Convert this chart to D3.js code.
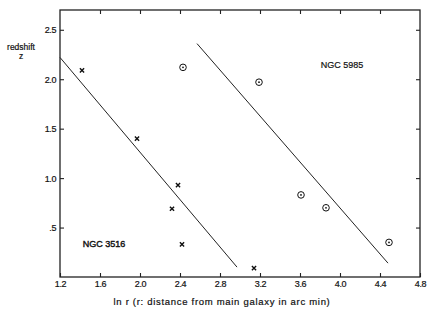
<!DOCTYPE html>
<html>
<head>
<meta charset="utf-8">
<script src="https://cdn.jsdelivr.net/npm/d3@7"></script>
<style>
  body { margin: 0; background: #fff; }
  text { font-family: "Liberation Sans", Arial, sans-serif; fill: #111; stroke: #111; stroke-width: 0.2px; }
</style>
</head>
<body>
<div class="chart"></div>
<script>
// data (x = ln r, y = redshift z)
const ngc3516X = [1.42, 1.97, 2.38, 2.32, 2.42, 3.14];
const ngc3516Z = [2.09, 1.40, 0.93, 0.69, 0.33, 0.09];
const ngc5985X = [2.43, 3.19, 3.61, 3.86, 4.49];
const ngc5985Z = [2.12, 1.97, 0.83, 0.70, 0.35];
// fitted lines, [x, z] end points
const line3516 = [[1.2, 2.22], [2.97, 0.10]];
const line5985 = [[2.57, 2.36], [4.48, 0.14]];
const xTicks = [1.2, 1.6, 2.0, 2.4, 2.8, 3.2, 3.6, 4.0, 4.4, 4.8];
const yTicks = [0.5, 1.0, 1.5, 2.0, 2.5];
const yTickLabels = ['.5', '1.0', '1.5', '2.0', '2.5'];

const width = 435, height = 316;
const plotLeft = 60, plotRight = 420, plotTop = 10, plotBottom = 277;

const svg = d3.select('.chart')
              .append('svg')
              .attr('width', width)
              .attr('height', height);

const x = d3.scaleLinear().domain([1.2, 4.8]).range([plotLeft, plotRight]);
const y = d3.scaleLinear().domain([0, 2.7]).range([plotBottom, plotTop]);

// frame
svg.append('rect')
   .attr('x', plotLeft).attr('y', plotTop)
   .attr('width', plotRight - plotLeft).attr('height', plotBottom - plotTop)
   .attr('fill', 'none')
   .attr('stroke', '#222')
   .attr('stroke-width', 1.3);

// axes, ticks pointing inward
const xAxis = d3.axisBottom(x).tickValues(xTicks).tickFormat(d3.format('.1f'))
                .tickSizeInner(-4).tickSizeOuter(0).tickPadding(4);
const gx = svg.append('g').attr('transform', `translate(0,${plotBottom})`).call(xAxis);

const yAxis = d3.axisLeft(y).tickValues(yTicks)
                .tickFormat((d, i) => yTickLabels[i])
                .tickSizeInner(-4).tickSizeOuter(0).tickPadding(4);
const gy = svg.append('g').attr('transform', `translate(${plotLeft},0)`).call(yAxis);

const gTop = svg.append('g').attr('transform', `translate(0,${plotTop})`)
                .call(d3.axisTop(x).tickValues(xTicks.slice(1, -1)).tickSizeInner(-4).tickSizeOuter(0).tickFormat(''));
const gRight = svg.append('g').attr('transform', `translate(${plotRight},0)`)
                  .call(d3.axisRight(y).tickValues(yTicks).tickSizeInner(-4).tickSizeOuter(0).tickFormat(''));

[gx, gy, gTop, gRight].forEach(g => {
    g.select('.domain').remove();
    g.selectAll('line').attr('stroke', '#222').attr('stroke-width', 1.1);
    g.selectAll('text')
     .style('font-size', '9px')
     .style('letter-spacing', '-0.4px')
     .style('font-family', '"Liberation Sans", Arial, sans-serif')
     .attr('fill', '#111');
});

// fitted lines
const lineGen = d3.line().x(d => x(d[0])).y(d => y(d[1]));
[line3516, line5985].forEach(l => {
    svg.append('path')
       .attr('d', lineGen(l))
       .attr('fill', 'none')
       .attr('stroke', '#222')
       .attr('stroke-width', 1);
});

// NGC 3516 crosses
const crosses = svg.selectAll('.cross')
                   .data(ngc3516X)
                   .enter()
                   .append('path')
                   .attr('class', 'cross')
                   .attr('d', (d, i) => {
                       const cx = x(d), cy = y(ngc3516Z[i]), s = 2.1;
                       return `M${cx - s},${cy - s}L${cx + s},${cy + s}M${cx - s},${cy + s}L${cx + s},${cy - s}`;
                   })
                   .attr('stroke', '#111')
                   .attr('stroke-width', 1.4);

// NGC 5985 circles with centre dot
const circles = svg.selectAll('.circ')
                   .data(ngc5985X)
                   .enter()
                   .append('g')
                   .attr('class', 'circ')
                   .attr('transform', (d, i) => `translate(${x(d)},${y(ngc5985Z[i])})`);
circles.append('circle').attr('r', 3.3).attr('fill', 'none').attr('stroke', '#111').attr('stroke-width', 1);
circles.append('circle').attr('r', 0.9).attr('fill', '#111');

// labels
svg.append('text').attr('x', 342).attr('y', 68).attr('text-anchor', 'middle')
   .style('font-size', '9px').text('NGC 5985');
svg.append('text').attr('x', 104).attr('y', 247).attr('text-anchor', 'middle')
   .style('font-size', '9px').style('stroke-width', '0.4px').text('NGC 3516');
svg.append('text').attr('x', 21).attr('y', 50).attr('text-anchor', 'middle')
   .style('font-size', '8.5px').text('redshift');
svg.append('text').attr('x', 21).attr('y', 59).attr('text-anchor', 'middle')
   .style('font-size', '8.5px').text('z');
svg.append('text').attr('x', 222).attr('y', 305).attr('text-anchor', 'middle')
   .style('font-size', '9.5px').style('letter-spacing', '0.7px')
   .text('ln r (r: distance from main galaxy in arc min)');
</script>
</body>
</html>
